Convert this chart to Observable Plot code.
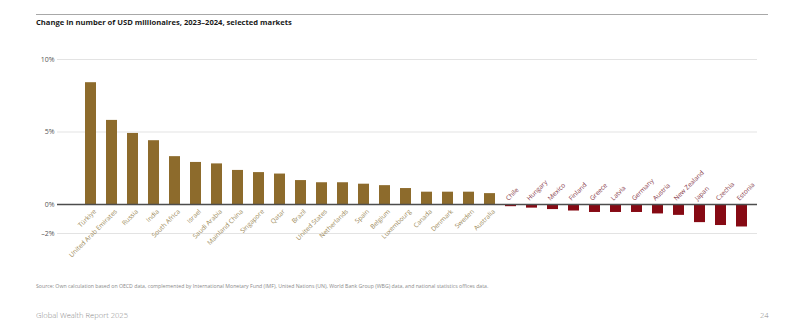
<!DOCTYPE html>
<html>
<head>
<meta charset="utf-8">
<script src="https://cdn.jsdelivr.net/npm/d3@7"></script>
<script src="https://cdn.jsdelivr.net/npm/@observablehq/plot@0.6"></script>
<style>
  html, body { margin: 0; padding: 0; background: #fff; }
  #page { position: relative; width: 808px; height: 336px; overflow: hidden; font-family: "Open Sans", sans-serif; }
  #rule { position: absolute; left: 36px; top: 14px; width: 732px; height: 0; border-top: 1.2px solid #a8a8a8; }
  #title { position: absolute; left: 36px; top: 17px; font-size: 7.6px; font-weight: 700; color: #1a1a1a; white-space: nowrap; }
  #chart { position: absolute; left: 0; top: 0; }
  #source { position: absolute; left: 36px; top: 281.5px; font-family: "Liberation Sans Narrow", "Open Sans", sans-serif; font-size: 5.2px; color: #8a8a8a; white-space: nowrap; }
  #footer { position: absolute; left: 36px; top: 310px; font-size: 7.6px; font-weight: 300; color: #8a8a8a; white-space: nowrap; }
  #pageno { position: absolute; left: 760px; top: 310px; font-size: 7.6px; font-weight: 300; color: #8a8a8a; }
</style>
</head>
<body>
<div id="page">
  <div id="rule"></div>
  <div id="title">Change in number of USD millionaires, 2023–2024, selected markets</div>
  <div id="chart"></div>
  <div id="source">Source: Own calculation based on OECD data, complemented by International Monetary Fund (IMF), United Nations (UN), World Bank Group (WBG) data, and national statistics offices data.</div>
  <div id="footer">Global Wealth Report 2025</div>
  <div id="pageno">24</div>
</div>
<script>
const countries = [
  "Türkiye", "United Arab Emirates", "Russia", "India", "South Africa", "Israel",
  "Saudi Arabia", "Mainland China", "Singapore", "Qatar", "Brazil", "United States",
  "Netherlands", "Spain", "Belgium", "Luxembourg", "Canada", "Denmark", "Sweden",
  "Australia", "Chile", "Hungary", "Mexico", "Finland", "Greece", "Latvia",
  "Germany", "Austria", "New Zealand", "Japan", "Czechia", "Estonia"
];
const values = [
  8.4, 5.8, 4.9, 4.4, 3.3, 2.9,
  2.8, 2.35, 2.2, 2.1, 1.65, 1.5,
  1.5, 1.4, 1.3, 1.1, 0.85, 0.85, 0.85,
  0.75, -0.15, -0.25, -0.35, -0.45, -0.55, -0.55,
  -0.55, -0.65, -0.75, -1.25, -1.45, -1.55
];
const yTicks = [10, 5, 0, -2];
const yTickLabels = ["10%", "5%", "0%", "–2%"];

const data = countries.map((c, i) => ({country: c, value: values[i]}));
const pos = data.filter(d => d.value >= 0);
const neg = data.filter(d => d.value < 0);

const posColor = "#8d6b2c";
const negColor = "#860a14";
const posLabel = "#9c8a5a";
const negLabel = "#863848";

const chart = Plot.plot({
  width: 808,
  height: 336,
  marginLeft: 57,
  marginRight: 51,
  marginTop: 59,
  marginBottom: 103,
  style: {fontFamily: "Open Sans, sans-serif", background: "transparent"},
  x: {type: "band", domain: countries, paddingInner: 0.48, paddingOuter: 0.26, align: 0.73, axis: null},
  y: {domain: [-2, 10], axis: null},
  marks: [
    Plot.gridY([10, 5, -2], {stroke: "#e3e3e3", strokeOpacity: 1, strokeWidth: 1}),
    Plot.axisY(yTicks, {
      tickSize: 0,
      tickPadding: 3,
      fontSize: 7,
      fill: "#555",
      label: null,
      tickFormat: d => yTickLabels[yTicks.indexOf(d)]
    }),
    Plot.barY(pos, {x: "country", y: "value", fill: posColor}),
    Plot.barY(neg, {x: "country", y: "value", fill: negColor}),
    Plot.ruleY([0], {stroke: "#4d4d4d", strokeWidth: 1.5}),
    Plot.text(pos, {
      x: "country", y: () => 0, text: "country",
      rotate: -45, textAnchor: "end", dx: 4, dy: 6,
      fontSize: 6.5, fill: posLabel
    }),
    Plot.text(neg, {
      x: "country", y: () => 0, text: "country",
      rotate: -45, textAnchor: "start", dx: -4, dy: -5,
      fontSize: 6.5, fill: negLabel
    })
  ]
});
document.getElementById("chart").appendChild(chart);
</script>
</body>
</html>
